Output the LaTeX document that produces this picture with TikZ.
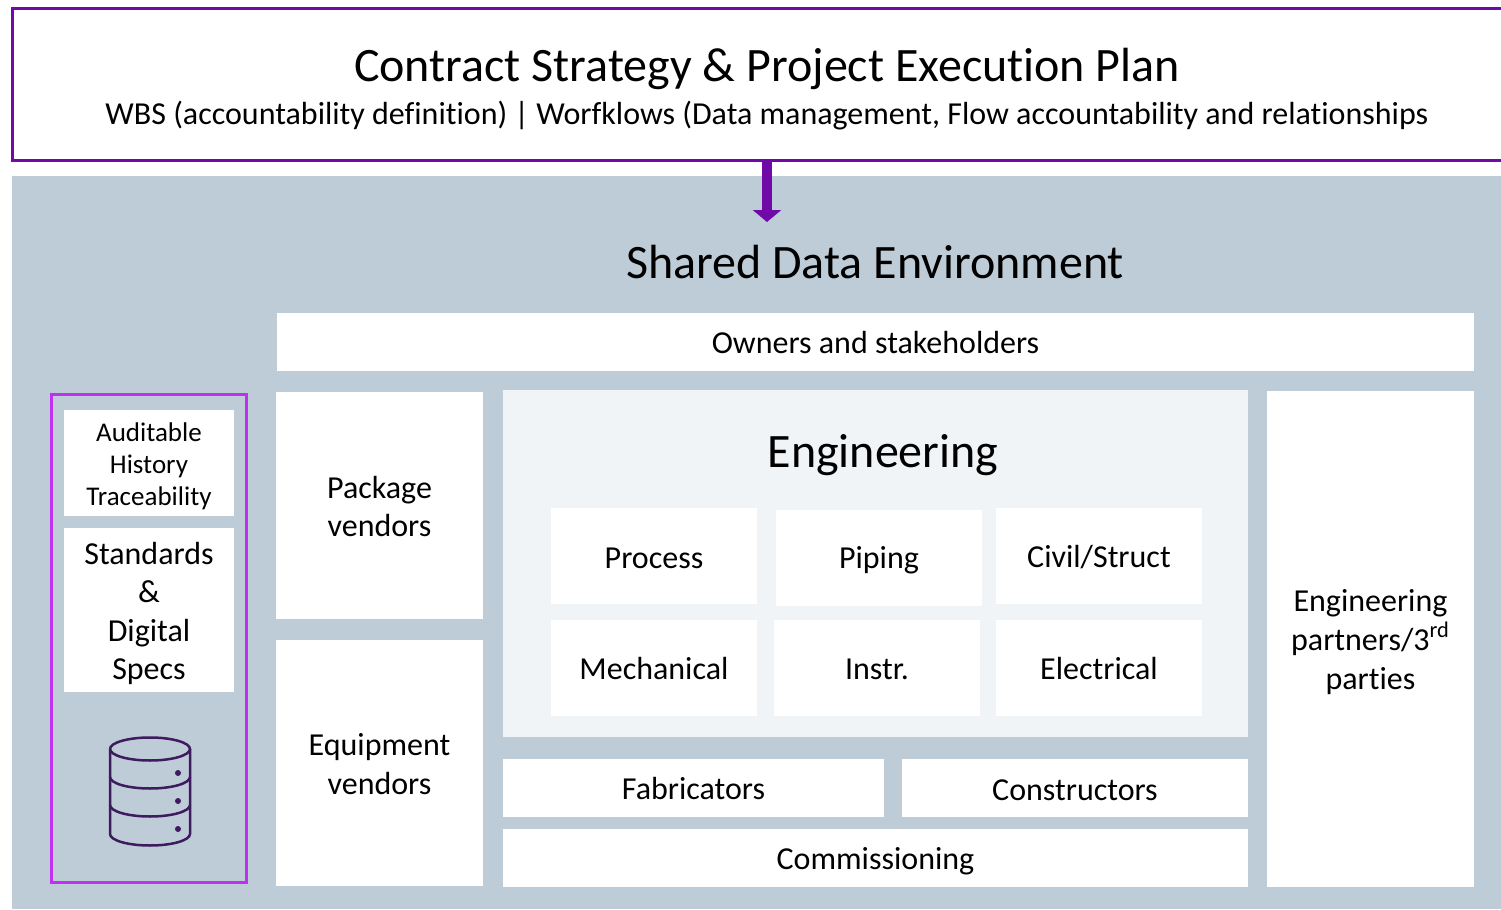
\documentclass[tikz,border=0pt]{standalone}
\usepackage{fontspec}
\setmainfont{Carlito}[Ligatures=NoCommon]
\usetikzlibrary{arrows.meta}
\definecolor{sde}{HTML}{BDCCD6}
\definecolor{panel}{HTML}{F0F4F7}
\definecolor{planpurple}{HTML}{7009A8}
\definecolor{brightpurple}{HTML}{C030F0}
\definecolor{icon}{HTML}{3E1A5E}
\newcommand{\fsz}[2]{\fontsize{#1pt}{#2pt}\selectfont}
\tikzset{
  x=0.5pt,y=-0.5pt,
  box/.style={fill=white,draw=none,inner sep=0pt},
  boxtext/.style={inner sep=0pt,align=center,text=black,font=\fsz{16}{19.3}},
  small/.style={font=\fsz{13.5}{16}},
  label/.style={inner sep=0pt,text=black},
  big/.style={font=\fsz{24}{28}},
  icn/.style={draw=icon,line width=1.25pt},
  dn/.style={yshift=-#1*0.5pt},
}
\newcommand{\pb}[7][]{\node[box,minimum width={(#5-#3)*0.5pt},minimum height={(#6-#4)*0.5pt}] (#2) at ({(#3+#5)/2},{(#4+#6)/2}) {};
  \node[boxtext,#1] (#2text) at (#2.center) {#7};}
\begin{document}
\begin{tikzpicture}
\useasboundingbox (0,0) rectangle (1501,910);
\clip (0,0) rectangle (1501,910);
\fill[sde] (12,176) rectangle (1501,909);
\node[box,draw=planpurple,line width=1.5pt,minimum width={1510*0.5pt},minimum height={152*0.5pt}] (plan) at (767,84) {};
\node[label,big] (plantitle) at (767,69) {Contract Strategy \& Project Execution Plan};
\node[label,font=\fsz{16}{20}] (plansub) at (767,116) {WBS (accountability definition) | Worfklows (Data management, Flow accountability and relationships};
\coordinate (tip) at (767,222);
\draw[planpurple,line width=5pt,-{Triangle[width=14pt,length=6pt]}] (plan.south) -- (tip);
\node[label,big] (sdetitle) at (875,262) {Shared Data Environment};
\pb[dn=1]{owners}{277}{313}{1474}{371}{Owners and stakeholders}
\pb[dn=1]{package}{276}{392}{483}{619}{Package\\vendors}
\pb[dn=1]{equipment}{276}{640}{483}{886}{Equipment\\vendors}
\node[box,fill=panel,minimum width={745*0.5pt},minimum height={347*0.5pt}] (eng) at (875.5,563.5) {};
\node[label,big] (engtitle) at (883,455) {Engineering};
\pb[dn=2]{process}{551}{508}{757}{604}{Process}
\pb[dn=2]{piping}{776}{510}{982}{606}{Piping}
\pb[dn=1]{civil}{996}{508}{1202}{604}{Civil/Struct}
\pb[dn=1]{mech}{551}{620}{757}{716}{Mechanical}
\pb[dn=1]{instr}{774}{620}{980}{716}{Instr.}
\pb[dn=1]{elec}{996}{620}{1202}{716}{Electrical}
\pb[dn=1]{fab}{503}{759}{884}{817}{Fabricators}
\pb[dn=2]{con}{902}{759}{1248}{817}{Constructors}
\pb[dn=3]{com}{503}{829}{1248}{887}{Commissioning}
\pb[dn=3]{partners}{1267}{391}{1474}{887}{Engineering\\partners/3\textsuperscript{rd}\\parties}
\draw[brightpurple,line width=1.5pt] (51.5,394.5) rectangle (246.5,882.5);
\pb[small,dn=3]{audit}{64}{410}{234}{516}{Auditable\\History\\Traceability}
\pb[dn=3.5]{standards}{64}{528}{234}{692}{Standards\\\&\\Digital\\Specs}
% database icon
\draw[icn] (110,749) arc[start angle=180,end angle=-180,x radius=40,y radius=11.5];
\draw[icn] (110,749) -- (110,834) arc[start angle=180,end angle=0,x radius=40,y radius=11.5] -- (190,749);
\draw[icn] (110,777) arc[start angle=180,end angle=0,x radius=40,y radius=11.5];
\draw[icn] (110,805) arc[start angle=180,end angle=0,x radius=40,y radius=11.5];
\fill[icon] (178,773) circle[radius=3] (178,801) circle[radius=3] (178,829) circle[radius=3];
\end{tikzpicture}
\end{document}
